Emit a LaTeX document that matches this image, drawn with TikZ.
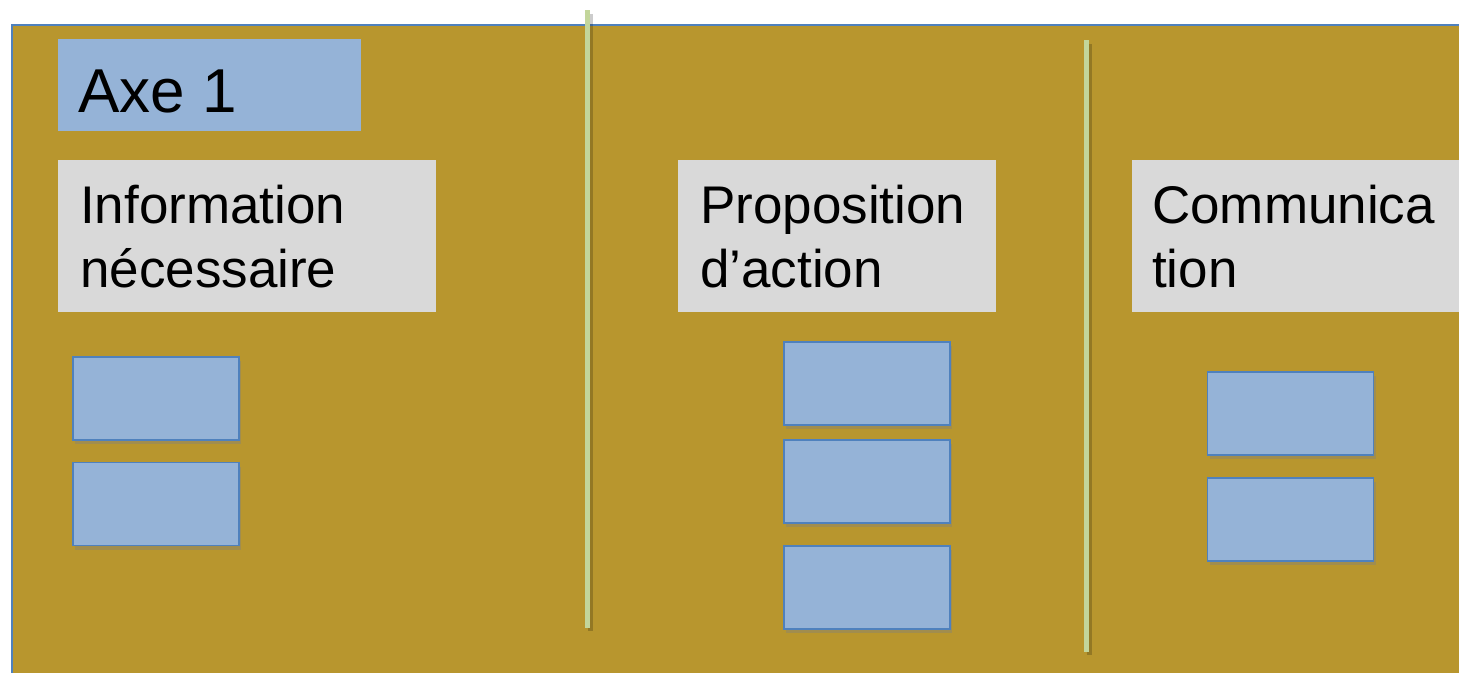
\documentclass[tikz,border=0pt]{standalone}
\usepackage{fontspec}
\setmainfont{Liberation Sans}
\usetikzlibrary{shadows}
\definecolor{boardgold}{HTML}{B8962E}
\definecolor{cardblue}{HTML}{95B3D7}
\definecolor{edgeblue}{HTML}{4F81BD}
\definecolor{labelgray}{HTML}{D9D9D9}
\definecolor{rulegreen}{HTML}{C3D69B}
\tikzset{
  card/.style={draw=edgeblue, line width=1.5pt, fill=cardblue, inner sep=0pt,
    minimum width=166pt, minimum height=83pt,
    drop shadow={opacity=0.4, shadow xshift=2pt, shadow yshift=-4pt}},
  heading/.style={fill=labelgray, inner sep=0pt, minimum height=152pt},
  headtext/.style={anchor=base west, inner sep=0pt, align=left,
    font=\fontsize{53}{64}\selectfont},
  rulebar/.style={line width=5pt, rulegreen}
}
\begin{document}
\begin{tikzpicture}[x=1pt,y=-1pt]
\clip (0,0) rectangle (1459,672);
\fill[white] (0,0) rectangle (1459,672);
% board
\draw[fill=boardgold, draw=edgeblue, line width=2.5pt] (12,25) rectangle (1480,700);
% axis title
\node[fill=cardblue, inner sep=0pt, minimum width=303pt, minimum height=92pt] (axe) at (209.5,85) {};
\node[anchor=base west, inner sep=0pt, font=\fontsize{62}{70}\selectfont] (axetext) at (78,112) {Axe 1};
% separators
\draw[line width=5pt, black, opacity=0.2] (590,14) -- (590,631);
\draw[rulebar] (587.5,10) -- (587.5,628);
\draw[line width=5pt, black, opacity=0.2] (1089.5,44) -- (1089.5,655);
\draw[rulebar] (1086.5,40) -- (1086.5,652);
% column headings (base anchor = last line)
\node[heading, minimum width=378pt] (info) at (247,236) {};
\node[headtext] (infotext) at (80,287) {Information\\nécessaire};
\node[heading, minimum width=318pt] (prop) at (837,236) {};
\node[headtext] (proptext) at (700,287) {Proposition\\d’action};
\node[heading, minimum width=348pt] (comm) at (1306,236) {};
\node[headtext] (commtext) at (1152,287) {Communica\\tion};
% cards
\node[card] (info1) at (156,398.5) {};
\node[card] (info2) at (156,504) {};
\node[card] (prop1) at (867,383.5) {};
\node[card] (prop2) at (867,481.5) {};
\node[card] (prop3) at (867,587.5) {};
\node[card] (comm1) at (1290.5,413.5) {};
\node[card] (comm2) at (1290.5,519.5) {};
\end{tikzpicture}
\end{document}
